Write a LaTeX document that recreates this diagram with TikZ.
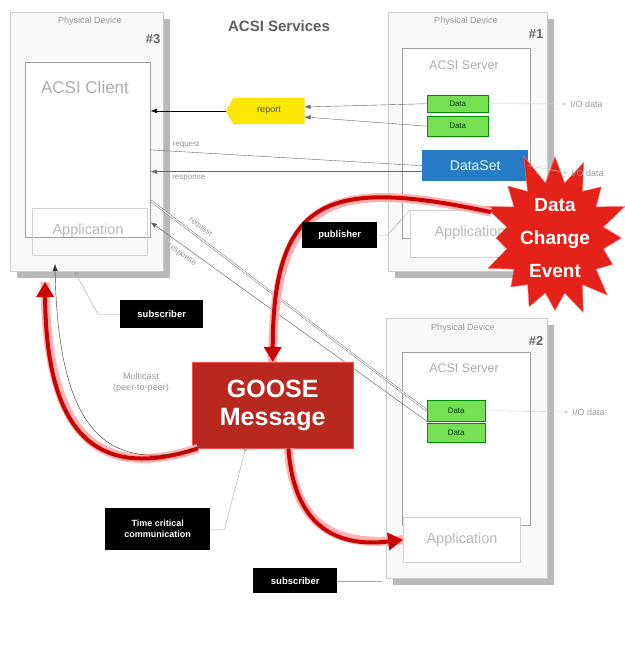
\documentclass[tikz,border=0pt]{standalone}
\usepackage{fontspec}
\setmainfont{Liberation Sans}
\usepackage{tikz}
\usetikzlibrary{positioning}
\usetikzlibrary{shapes.symbols, arrows.meta}
\definecolor{goosered}{RGB}{184,40,30}
\definecolor{burstred}{RGB}{228,34,26}
\definecolor{datagreen}{RGB}{118,224,84}
\definecolor{setblue}{RGB}{38,124,196}

\begin{document}
\begin{tikzpicture}[x=1pt,y=-1pt,
  box/.style={rectangle,anchor=north west,inner sep=0pt},
  devbox/.style={box,draw=gray!40,fill=gray!5},
  srvbox/.style={box,draw=gray!75,thick,fill=white},
  appbox/.style={box,draw=gray!35},
  databox/.style={box,draw=green!55!black,fill=datagreen,font=\fontsize{8}{9}\selectfont,text=green!25!black},
  tagbox/.style={box,fill=black,font=\fontsize{9.5}{11}\selectfont\bfseries,text=white,align=center},
  title/.style={font=\fontsize{9}{10}\selectfont,text=gray!80},
  small/.style={font=\fontsize{8}{9}\selectfont,text=gray!80},
  redpath/.style={draw=red!80!black,line width=4pt,-{Triangle[length=15pt,width=17pt]},preaction={draw=red!30,line width=9pt,-}},
  pointer/.style={draw=gray!70,thin}]
\useasboundingbox (0,0) rectangle (624,652);
\fill[white] (0,0) rectangle (624,652);

\fill[gray!55] (17,19) rectangle (170,278);
\node[devbox,minimum width=153pt,minimum height=259pt] (pd3) at (10,12) {};
\node[title] at (90,21) {Physical Device};
\node[font=\fontsize{13}{15}\selectfont\bfseries,text=gray!80!black] at (153,39) {\#3};
\node[srvbox,minimum width=125pt,minimum height=175pt] (client) at (25,62) {};
\node[font=\fontsize{17}{19}\selectfont,text=gray!65] at (85,87) {ACSI Client};
\node[appbox,minimum width=115pt,minimum height=47pt] (app3) at (32,208) {};
\node[font=\fontsize{14.5}{16}\selectfont,text=gray!55] at (88,231) {Application};

\node[font=\fontsize{15}{17}\selectfont\bfseries,text=gray!75!black] at (279,26) {ACSI Services};

\fill[gray!55] (395,19) rectangle (554,278);
\node[devbox,minimum width=159pt,minimum height=259pt] (pd1) at (388,12) {};
\node[title] at (466,21) {Physical Device};
\node[font=\fontsize{13}{15}\selectfont\bfseries,text=gray!80!black] at (536,34) {\#1};
\node[srvbox,minimum width=128pt,minimum height=190pt] (srv1) at (402,48) {};
\node[font=\fontsize{12.5}{14}\selectfont,text=gray!65] at (464,65) {ACSI Server};
\node[databox,minimum width=61pt,minimum height=17pt] (d11) at (427,95) {Data};
\node[databox,minimum width=61pt,minimum height=20pt] (d12) at (427,116) {Data};
\node[box,fill=setblue,text=white!90!cyan,font=\fontsize{14}{16}\selectfont,minimum width=106pt,minimum height=31pt] (dataset) at (422,150) {DataSet};
\node[appbox,fill=white,minimum width=122pt,minimum height=47pt] (app1) at (410,210) {};
\node[font=\fontsize{14.5}{16}\selectfont,text=gray!55] at (470,233) {Application};

\fill[gray!55] (393,325) rectangle (554,585);
\node[devbox,minimum width=161pt,minimum height=260pt] (pd2) at (386,318) {};
\node[title] at (463,328) {Physical Device};
\node[font=\fontsize{13}{15}\selectfont\bfseries,text=gray!80!black] at (536,341) {\#2};
\node[srvbox,minimum width=128pt,minimum height=173pt] (srv2) at (402,352) {};
\node[font=\fontsize{12.5}{14}\selectfont,text=gray!65] at (464,368) {ACSI Server};
\node[databox,minimum width=58pt,minimum height=21pt] (d21) at (427,400) {Data};
\node[databox,minimum width=58pt,minimum height=19pt] (d22) at (427,423) {Data};
\node[appbox,fill=white,minimum width=117pt,minimum height=45pt] (app2) at (403,517) {};
\node[font=\fontsize{14.5}{16}\selectfont,text=gray!55] at (462,540) {Application};

\node[signal,signal to=west,signal pointer angle=120,fill=yellow!90!orange,draw=yellow!60!orange,minimum width=78pt,minimum height=26pt,inner sep=1pt,font=\fontsize{9}{10}\selectfont,text=black!70] (rep) at (269,111) {report};
\coordinate (resp) at ([yshift=-6pt]dataset.west);
\draw[-{Latex[length=6pt]}] (rep.west) -- (rep.west -| client.east);
\draw[gray!80!black,-{Latex[length=6pt]}] (d11.west) -- ([yshift=4pt]rep.east);
\draw[gray!80!black,-{Latex[length=6pt]}] (d12.west) -- ([yshift=-6pt]rep.east);
\draw[gray!80!black] (client.east) -- node[pos=0.13,above,small] {request} (dataset.west);
\draw[gray!80!black,-{Latex[length=6pt]}] (resp) -- node[pos=0.86,below,small] {response} (resp -| client.east);
\draw[gray!70!black,double=white,double distance=1.2pt] (client.-39) -- node[pos=0.16,sloped,above=2pt,small] {request} (d21.west);
\draw[gray!70!black,-{Latex[length=6pt]}] (d21.south west) -- node[pos=0.87,sloped,below=2pt,small] {response} (client.-49);

\node[box,fill=goosered,draw=red!70,minimum width=161pt,minimum height=86pt,font=\fontsize{25}{28}\selectfont\bfseries,text=white,align=center] (goose) at (192,362) {GOOSE\\Message};
\coordinate (subin) at (45,282);
\coordinate (subdot) at (75,272);
\coordinate (blackin) at (55,264);
\draw[redpath] (goose.-150) .. controls (95,482) and (46,432) .. (subin);
\draw[black!80,-{Latex[length=7pt]}] (goose.-150) .. controls (106,474) and (58,430) .. (blackin);
\draw[redpath] (goose.-70) .. controls (294,525) and (335,548) .. (app2.west);
\draw[-{Latex[length=7pt]}] ([yshift=16pt]goose.north) -- (goose.north);

\node[starburst,starburst points=16,starburst point height=34pt,random starburst=11,inner sep=0pt,fill=burstred,draw=red!60,minimum width=140pt,minimum height=170pt,font=\fontsize{19}{33}\selectfont\bfseries,text=white,align=center] (burst) at (555,238) {Data\\Change\\Event};
\draw[redpath] (burst.158) .. controls (330,178) and (273,195) .. (goose.north);

\node[small,font=\fontsize{9}{10}\selectfont,anchor=west] (io1) at (567,104) {I/O data};
\node[small,font=\fontsize{9}{10}\selectfont,anchor=west] (io2) at (568,173) {I/O data};
\node[small,font=\fontsize{9}{10}\selectfont,anchor=west] (io3) at (569,412) {I/O data};
\draw[gray!35,-{Latex[length=4pt]}] (d11.east) -- (io1.west);
\draw[gray!35,-{Latex[length=4pt]}] (dataset.east) -- (io2.west);
\draw[gray!35,-{Latex[length=4pt]}] (d21.east) -- (io3.west);

\node[tagbox,minimum width=75pt,minimum height=26pt] (pub) at (302,222) {publisher};
\node[tagbox,minimum width=83pt,minimum height=28pt] (sub1) at (120,300) {subscriber};
\node[tagbox,minimum width=105pt,minimum height=42pt,font=\fontsize{9}{11}\selectfont\bfseries] (tcc) at (105,508) {Time critical\\communication};
\node[tagbox,minimum width=84pt,minimum height=25pt] (sub2) at (253,568) {subscriber};
\node[small,font=\fontsize{9}{11}\selectfont,align=center] (mc) at (141,383) {Multicast\\(peer-to-peer)};
\draw[pointer] (pub.east) -- ++(10,0) -- (app1.north west);
\draw[pointer,-{Circle[length=4pt]}] (sub1.west) -- ++(-22,0) -- (subdot);
\draw[pointer,-{Circle[length=3pt]}] (tcc.east) -- ++(14,0) -- (goose.-122);
\draw[pointer] (sub2.east) -- ++(45,0);
\end{tikzpicture}
\end{document}
